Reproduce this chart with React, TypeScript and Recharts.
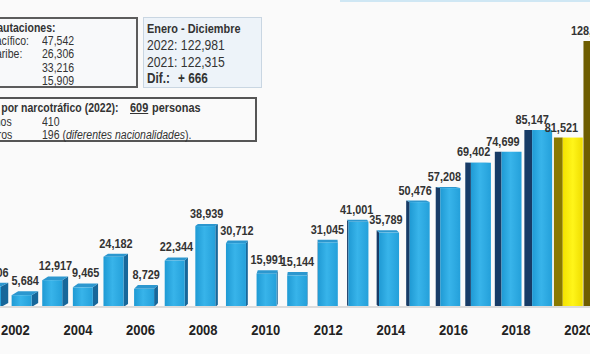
import React from 'react';
import { BarChart, Bar, XAxis, YAxis, LabelList } from 'recharts';

const years = [
  '2001', '2002', '2003', '2004', '2005', '2006', '2007', '2008', '2009', '2010', '2011',
  '2012', '2013', '2014', '2015', '2016', '2017', '2018', '2019', '2020', '2021',
];
const seizures = [
  9806, 5684, 12917, 9465, 24182, 8729, 22344, 38939, 30712, 15991, 15144,
  31045, 41001, 35789, 50476, 57208, 69402, 74699, 85147, 81521, 128000,
];

const regions = ['Pacífico:', 'Caribe:'];
const regionValues = ['47,542', '26,306', '33,216', '15,909'];
const periodRows = ['2022: 122,981', '2021: 122,315'];
const detainedTotal = '609';
const detainedRows = [
  { label: 'Panameños', value: '410', note: '' },
  { label: 'Extranjeros', value: '196', note: 'diferentes nacionalidades' },
];

const data = years.map((year, i) => ({ year, value: seizures[i] }));

const CHART_LEFT = -24;
const VANISH_X = 320;
const SANS = "'Liberation Sans', Arial, sans-serif";
const SQUEEZE = 0.84;

const fmt = (v: number) => v.toLocaleString('en-US');

const palette = (year: string) => {
  if (year === '2020') return { front: 'url(#gYellow)', side: '#8a7900', top: '#e8da00' };
  if (year === '2021') return { front: 'url(#gOlive)', side: '#6e5d00', top: '#a58d10' };
  return { front: 'url(#gBlue)', side: '#17679a', top: '#2c97cf', dark: '#173b66' };
};

// distance of a chart x from the (fake) perspective centre, in page pixels
const distOf = (chartX: number) => chartX + CHART_LEFT - VANISH_X;

const Bar3D = (props: any) => {
  const { x, y, width, height, payload } = props;
  if (!height) return null;
  const base = y + height;
  const dist = distOf(x + width / 2);
  const c: any = palette(payload.year);
  const t = Math.max(0, Math.min(4, (y - 150) / 35));
  if (dist < 0) {
    const s = Math.min(8, -dist * 0.022);
    return (
      <g>
        <polygon
          points={`${x + width},${y} ${x + width + s},${y - t} ${x + width + s},${base - t} ${x + width},${base}`}
          fill={c.side}
        />
        <polygon
          points={`${x},${y} ${x + s},${y - t} ${x + width + s},${y - t} ${x + width},${y}`}
          fill={c.top}
        />
        <rect x={x} y={y} width={width} height={height} fill={c.front} />
      </g>
    );
  }
  const s = Math.min(11, dist * 0.035);
  return (
    <g>
      <polygon
        points={`${x},${y} ${x - s},${y - t} ${x - s},${base - t} ${x},${base}`}
        fill={c.dark || c.side}
      />
      <polygon
        points={`${x},${y} ${x - s},${y - t} ${x + width - s},${y - t} ${x + width},${y}`}
        fill={c.top}
      />
      <rect x={x} y={y} width={width} height={height} fill={c.front} />
    </g>
  );
};

// narrow-looking svg text (the source font is condensed)
const SlimText = ({ x, y, size, children, fill = '#333' }: any) => (
  <text
    transform={`translate(${x} ${y}) scale(${SQUEEZE} 1)`}
    textAnchor="middle"
    fontFamily={SANS}
    fontWeight="bold"
    fontSize={size}
    fill={fill}
  >
    {children}
  </text>
);

const ValueLabel = (props: any) => {
  const { x, y, width, value } = props;
  const t = Math.max(0, Math.min(4, (y - 150) / 35));
  const dist = distOf(x + width / 2);
  const shift = dist < 0 ? -dist * 0.012 : -dist * 0.045;
  return (
    <SlimText x={x + width / 2 + shift} y={y - t - 6} size={13}>
      {fmt(value)}
    </SlimText>
  );
};

const YearTick = (props: any) => {
  const { x, y, payload } = props;
  if (Number(payload.value) % 2 !== 0) return null;
  const shift = distOf(x) * 0.022;
  return (
    <SlimText x={x + shift} y={y + 20} size={15.5} fill="#222">
      {payload.value}
    </SlimText>
  );
};

const Txt = ({ left, right, cy, style, children }: any) => {
  const alignRight = right !== undefined;
  return (
    <div
      style={{
        position: 'absolute',
        top: cy - 6,
        left: alignRight ? right - 200 : left,
        width: alignRight ? 200 : undefined,
        textAlign: alignRight ? 'right' : 'left',
        lineHeight: '12px',
        whiteSpace: 'nowrap',
      }}
    >
      <span
        style={{
          display: 'inline-block',
          fontFamily: SANS,
          fontSize: 12.5,
          color: '#333',
          transform: `scaleX(${SQUEEZE})`,
          transformOrigin: alignRight ? 'right center' : 'left center',
          ...style,
        }}
      >
        {children}
      </span>
    </div>
  );
};

export default function App() {
  return (
    <div style={{ position: 'relative', width: 590, height: 354, overflow: 'hidden', background: '#fafafa' }}>
      <style>{'body{margin:0}'}</style>
      <div style={{ position: 'absolute', left: 340, top: 0, width: 250, height: 2, background: '#cfe7f4' }} />

      <div style={{ position: 'absolute', left: CHART_LEFT, top: 0 }}>
        <BarChart width={643} height={347} data={data} margin={{ top: 16, right: 0, left: 0, bottom: 0 }}>
          <defs>
            <linearGradient id="gBlue" x1="0" y1="0" x2="1" y2="0">
              <stop offset="0%" stopColor="#1f9ad4" />
              <stop offset="45%" stopColor="#38b4ea" />
              <stop offset="100%" stopColor="#24a0da" />
            </linearGradient>
            <linearGradient id="gYellow" x1="0" y1="0" x2="1" y2="0">
              <stop offset="0%" stopColor="#f4e200" />
              <stop offset="50%" stopColor="#fff51a" />
              <stop offset="100%" stopColor="#efdd00" />
            </linearGradient>
            <linearGradient id="gOlive" x1="0" y1="0" x2="1" y2="0">
              <stop offset="0%" stopColor="#8f7700" />
              <stop offset="50%" stopColor="#a88e0c" />
              <stop offset="100%" stopColor="#8c7500" />
            </linearGradient>
          </defs>
          <XAxis
            dataKey="year"
            height={40}
            interval={0}
            tickLine={false}
            axisLine={{ stroke: '#dcdcdc', strokeWidth: 2 }}
            tick={<YearTick />}
          />
          <YAxis hide domain={[0, 140000]} />
          <Bar dataKey="value" barSize={20} shape={<Bar3D />} isAnimationActive={false}>
            <LabelList dataKey="value" content={<ValueLabel />} />
          </Bar>
        </BarChart>
      </div>

      {/* incautaciones */}
      <div style={{ position: 'absolute', left: -80, top: 17, width: 218, height: 71, boxSizing: 'border-box', border: '2px solid #5c5c5c', background: '#f8f9fa' }} />
      <Txt right={56} cy={27} style={{ fontWeight: 'bold' }}>Incautaciones:</Txt>
      {regions.map((r, i) => (
        <Txt key={'r' + i} right={29 - i * 7} cy={40 + i * 13.4}>{r}</Txt>
      ))}
      {regionValues.map((v, i) => (
        <Txt key={'v' + i} left={42} cy={40 + i * 13.4}>{v}</Txt>
      ))}

      {/* enero - diciembre */}
      <div style={{ position: 'absolute', left: 143, top: 17, width: 119, height: 71, boxSizing: 'border-box', border: '1px solid #c9d6e2', background: '#edf3f9' }} />
      <Txt left={147} cy={28} style={{ fontWeight: 'bold', fontSize: 13 }}>Enero - Diciembre</Txt>
      {periodRows.map((p, i) => (
        <Txt key={'p' + i} left={147} cy={45 + i * 17} style={{ fontSize: 14.5 }}>{p}</Txt>
      ))}
      <Txt left={147} cy={78} style={{ fontWeight: 'bold', fontSize: 14 }}>Dif.:</Txt>
      <Txt left={178} cy={78} style={{ fontWeight: 'bold', fontSize: 14 }}>+ 666</Txt>

      {/* detenidos */}
      <div style={{ position: 'absolute', left: -80, top: 97, width: 337, height: 45, boxSizing: 'border-box', border: '2px solid #555', background: '#fafafa' }} />
      <Txt right={115} cy={107} style={{ fontWeight: 'bold' }}>Detenidos por narcotráfico (2022):</Txt>
      <Txt left={130} cy={107} style={{ fontWeight: 'bold', fontSize: 13, textDecoration: 'underline' }}>{detainedTotal}</Txt>
      <Txt left={152} cy={107} style={{ fontWeight: 'bold', fontSize: 13 }}>personas</Txt>
      {detainedRows.map((d, i) => (
        <React.Fragment key={'d' + i}>
          <Txt right={12} cy={120.5 + i * 13.5}>{d.label}</Txt>
          <Txt left={42} cy={120.5 + i * 13.5}>
            {d.value}
            {d.note ? (
              <>
                {'  ('}
                <i>{d.note}</i>
                {').'}
              </>
            ) : null}
          </Txt>
        </React.Fragment>
      ))}
    </div>
  );
}
